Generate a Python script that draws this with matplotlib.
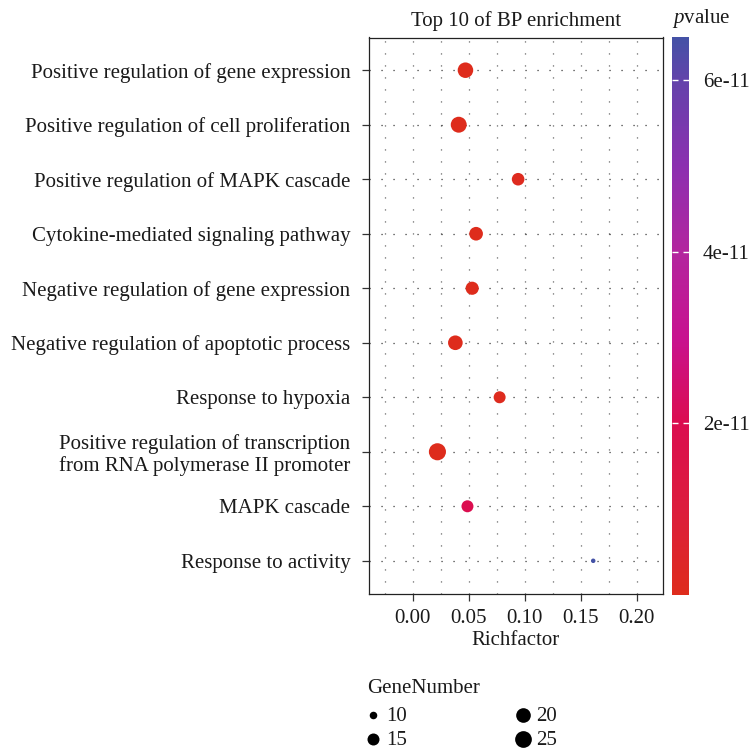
import numpy as np
import matplotlib
matplotlib.use("Agg")
import matplotlib.pyplot as plt
from matplotlib.colors import LinearSegmentedColormap, Normalize

# ---------------- data ----------------
terms = [
    "Positive regulation of gene expression",
    "Positive regulation of cell proliferation",
    "Positive regulation of MAPK cascade",
    "Cytokine-mediated signaling pathway",
    "Negative regulation of gene expression",
    "Negative regulation of apoptotic process",
    "Response to hypoxia",
    "Positive regulation of transcription\nfrom RNA polymerase II promoter",
    "MAPK cascade",
    "Response to activity",
]
richfactor = [0.047, 0.041, 0.094, 0.0565, 0.053, 0.038, 0.0775, 0.022, 0.0488, 0.161]
gene_number = [22, 23, 16, 18, 17, 20, 15, 26, 15, 9]
pvalue = [3e-16, 5e-16, 8e-13, 2e-14, 1e-13, 4e-15, 6e-13, 1e-17, 2.0e-11, 6.5e-11]

size_breaks = [10, 15, 20, 25]
x_major = [0.00, 0.05, 0.10, 0.15, 0.20]
x_minor = [-0.025, 0.025, 0.075, 0.125, 0.175]
cbar_ticks = [2e-11, 4e-11, 6e-11]
cbar_ticklabels = ["2e-11", "4e-11", "6e-11"]

# ---------------- style ----------------
plt.rcParams["font.family"] = ["Liberation Serif", "DejaVu Serif"]
plt.rcParams["mathtext.fontset"] = "custom"
plt.rcParams["mathtext.rm"] = "Liberation Serif"
plt.rcParams["mathtext.it"] = "Liberation Serif:italic"
plt.rcParams["lines.scale_dashes"] = False
FS = 15
TXT = "#1a1a1a"

grad_stops = [
    (0.00, "#de2c1c"),
    (0.15, "#dc1d3c"),
    (0.31, "#db0d50"),
    (0.46, "#c8128f"),
    (0.62, "#b2259f"),
    (0.77, "#8c2fb0"),
    (0.92, "#6442ab"),
    (1.00, "#4452a6"),
]
cmap = LinearSegmentedColormap.from_list("pv", grad_stops)
norm = Normalize(vmin=min(pvalue), vmax=max(pvalue))


def size_of(v):
    d_px = 4.5 + 12.6 * np.sqrt(np.clip((np.asarray(v, float) - 9) / 17, 0, 1))
    return (d_px * 0.72) ** 2


# ---------------- figure ----------------
W = 752
fig = plt.figure(figsize=(7.52, 7.52), dpi=100)
L, R, T, B = 368.5, 662.7, 37.5, 593.5
ax = fig.add_axes([L / W, 1 - B / W, (R - L) / W, (B - T) / W])

n = len(terms)
ypos = np.arange(n, 0, -1)

ax.set_xlim(-0.0395, 0.223)
ax.set_ylim(0.4, n + 0.6)
ax.set_xticks(x_major)
ax.set_xticklabels([f"{v:.2f}" for v in x_major])
ax.set_xticks(x_minor, minor=True)
ax.set_yticks(ypos)
ax.set_yticklabels(terms, linespacing=1.15)

ax.grid(which="both", axis="x", color="#555555", linewidth=0.9,
        linestyle=(0, (0.8, 7.84)))
ax.grid(which="major", axis="y", color="#222222", linewidth=0.9,
        linestyle=(0, (0.8, 7.84)))
ax.set_axisbelow(True)

ax.scatter(richfactor, ypos, s=size_of(gene_number), c=pvalue, cmap=cmap,
           norm=norm, linewidths=0, zorder=3)

for sp in ax.spines.values():
    sp.set_color("#222222")
    sp.set_linewidth(0.9)
ax.tick_params(axis="both", which="major", length=5, width=0.9, color="#333333",
               labelsize=FS, labelcolor=TXT, pad=6)
ax.tick_params(axis="x", which="minor", length=0)
ax.tick_params(axis="y", pad=8)

ax.set_xlabel("Richfactor", fontsize=FS, color=TXT, labelpad=2)
ax.set_title("Top 10 of BP enrichment", fontsize=FS, color=TXT, pad=8)

# colorbar
cax = fig.add_axes([672 / W, 1 - 595 / W, 17 / W, (595 - 37) / W])
sm = matplotlib.cm.ScalarMappable(norm=norm, cmap=cmap)
cb = fig.colorbar(sm, cax=cax)
cb.outline.set_visible(False)
cb.set_ticks(cbar_ticks)
cb.set_ticklabels(cbar_ticklabels)
cax.tick_params(left=True, right=True, direction="in", color="white", length=4,
                width=1.0, labelsize=FS, labelcolor=TXT, pad=10)
fig.text(672 / W, 1 - 18 / W, "$\\mathit{p}$value", fontsize=FS, color=TXT,
         ha="left", va="center")

# size legend
handles = [plt.scatter([], [], s=size_of(v), color="black", linewidths=0)
           for v in size_breaks]
leg = fig.legend(handles, [str(v) for v in size_breaks], title="GeneNumber",
                 ncol=2, loc="upper left", bbox_to_anchor=(367 / W, 1 - 679 / W),
                 frameon=False, fontsize=FS, title_fontsize=FS,
                 handlelength=0.6, handletextpad=0.3, columnspacing=5.3,
                 labelspacing=0.2, borderpad=0, borderaxespad=0)
leg._legend_box.align = "left"
leg._legend_box.sep = 6
for t in leg.get_texts():
    t.set_color(TXT)
leg.get_title().set_color(TXT)

fig.savefig("out.png", dpi=100)
